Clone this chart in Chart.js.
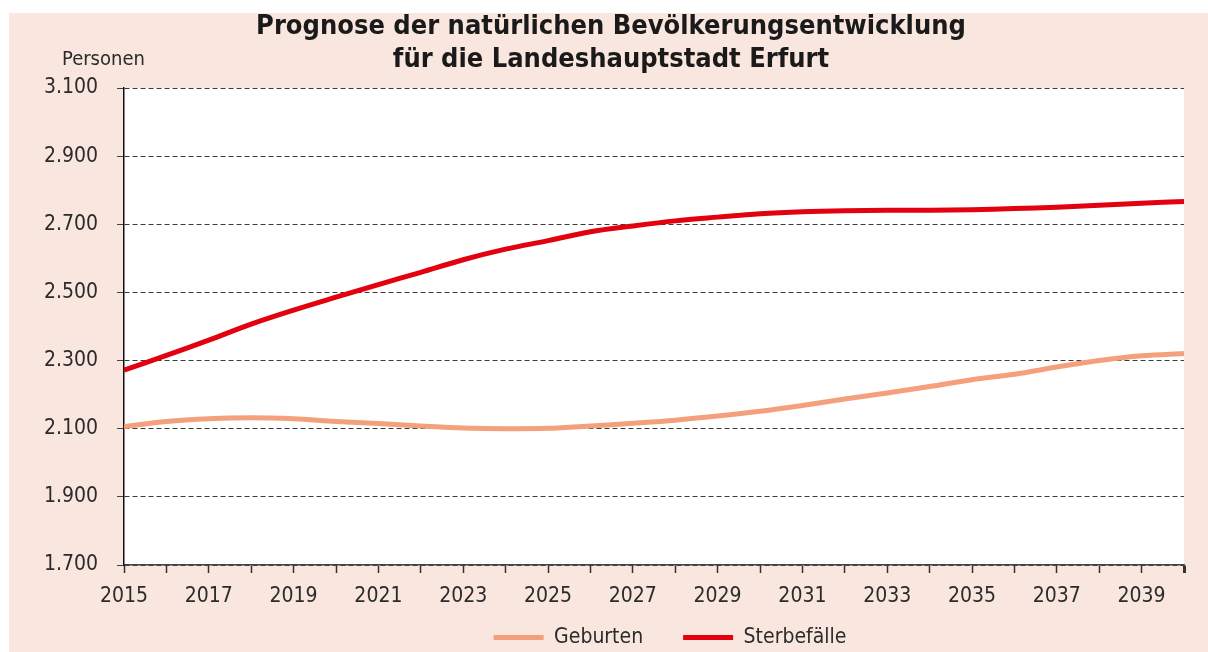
<!DOCTYPE html>
<html lang="de">
<head>
<meta charset="utf-8">
<title>Natürliche Bevölkerungsentwicklung Erfurt</title>
<script src="https://cdn.jsdelivr.net/npm/chart.js@4/dist/chart.umd.min.js"></script>
<style>
    html, body { margin: 0; padding: 0; background: #fff; }
    #wrap { position: relative; width: 1208px; height: 652px; }
</style>
</head>
<body>
<div id="wrap"><canvas id="prognoseChart" width="1208" height="652"></canvas></div>
<script>
// Prognosejahre
const years = [2015, 2016, 2017, 2018, 2019, 2020, 2021, 2022, 2023, 2024, 2025, 2026, 2027,
               2028, 2029, 2030, 2031, 2032, 2033, 2034, 2035, 2036, 2037, 2038, 2039, 2040];

// Geburten je Jahr
const geburten = [2106, 2121, 2129, 2132, 2129, 2121, 2115, 2108, 2102, 2100, 2101, 2108, 2116,
                  2125, 2137, 2151, 2168, 2187, 2205, 2224, 2244, 2260, 2281, 2300, 2314, 2321];

// Sterbefälle je Jahr
const sterbefaelle = [2272, 2315, 2360, 2407, 2448, 2486, 2523, 2559, 2596, 2627, 2652, 2678, 2695,
                      2710, 2721, 2731, 2737, 2740, 2741, 2741, 2743, 2746, 2750, 2756, 2762, 2767];

const yTicks = { min: 1700, max: 3100, step: 200 };

const titleLines = ['Prognose der natürlichen Bevölkerungsentwicklung', 'für die Landeshauptstadt Erfurt'];
const unitLabel = 'Personen';

const FONT = "'Liberation Sans Narrow', 'DejaVu Sans Condensed', 'Roboto', sans-serif";
const TEXT_COLOR = '#2b2b2b';

function formatThousands(v) {
    const t = Math.floor(v / 1000);
    const r = String(v % 1000).padStart(3, '0');
    return t > 0 ? t + '.' + r : String(v);
}

function toPoints(values) {
    return values.map((v, i) => ({ x: years[i], y: v }));
}

// Rosa Hintergrund, weisse Plotflaeche, Titel und Einheit
const backdrop = {
    id: 'backdrop',
    afterLayout(chart) {
        // Legende unter die Plotmitte ruecken und naeher an die Achse holen
        const lg = chart.legend;
        if (lg) {
            lg.left += 78;
            lg.right += 78;
            lg.top -= 30;
            lg.bottom -= 30;
        }
    },
    beforeDraw(chart) {
        const { ctx, chartArea } = chart;
        ctx.save();
        ctx.fillStyle = '#fff';
        ctx.fillRect(0, 0, chart.width, chart.height);
        ctx.fillStyle = '#f9e7df';
        ctx.fillRect(9, 13, chart.width - 9, chart.height - 13);
        ctx.fillStyle = '#fff';
        ctx.fillRect(chartArea.left, chartArea.top, chartArea.right - chartArea.left, chartArea.bottom - chartArea.top);
        ctx.restore();
    },
    afterDraw(chart) {
        const { ctx } = chart;
        ctx.save();
        ctx.fillStyle = '#1a1a1a';
        ctx.textAlign = 'center';
        ctx.textBaseline = 'alphabetic';
        ctx.font = "bold 27px " + FONT;
        ctx.fillText(titleLines[0], 611, 34);
        ctx.fillText(titleLines[1], 611, 67);
        ctx.fillStyle = TEXT_COLOR;
        ctx.textAlign = 'left';
        ctx.font = "20px " + FONT;
        ctx.fillText(unitLabel, 62, 65);
        ctx.restore();
    }
};

const ctx = document.getElementById('prognoseChart').getContext('2d');
new Chart(ctx, {
    type: 'line',
    data: {
        datasets: [
            {
                label: 'Geburten',
                data: toPoints(geburten),
                borderColor: '#f4a07c',
                backgroundColor: '#f4a07c',
                borderWidth: 5,
                pointRadius: 0,
                tension: 0.35
            },
            {
                label: 'Sterbefälle',
                data: toPoints(sterbefaelle),
                borderColor: '#e3000f',
                backgroundColor: '#e3000f',
                borderWidth: 5,
                pointRadius: 0,
                tension: 0.35
            }
        ]
    },
    options: {
        responsive: false,
        animation: false,
        layout: {
            padding: { left: 0, top: 88, right: 24, bottom: -36 }
        },
        scales: {
            x: {
                type: 'linear',
                min: years[0],
                max: years[years.length - 1],
                afterFit(scale) { scale.height = 52; },
                grid: {
                    drawOnChartArea: false,
                    drawTicks: true,
                    tickLength: 8,
                    tickColor: '#333',
                    tickWidth: (c) => (c.tick && c.tick.value === 2040 ? 3 : 1.5)
                },
                border: { color: '#444', width: 1.5 },
                ticks: {
                    stepSize: 1,
                    autoSkip: false,
                    maxRotation: 0,
                    padding: 11,
                    color: TEXT_COLOR,
                    font: { family: FONT, size: 21 },
                    callback: (v) => (v % 2 === 1 ? String(v) : '')
                }
            },
            y: {
                min: yTicks.min,
                max: yTicks.max,
                afterFit(scale) { scale.width = 124; },
                grid: {
                    color: '#3a3a3a',
                    lineWidth: 1,
                    tickLength: 7,
                    tickColor: '#444'
                },
                border: { color: '#111', width: 1.5, dash: [5, 3] },
                ticks: {
                    stepSize: yTicks.step,
                    padding: 19,
                    color: TEXT_COLOR,
                    font: { family: FONT, size: 21 },
                    callback: (v) => formatThousands(v)
                }
            }
        },
        plugins: {
            title: { display: false },
            tooltip: { enabled: false },
            legend: {
                position: 'bottom',
                labels: {
                    usePointStyle: true,
                    pointStyle: 'line',
                    pointStyleWidth: 50,
                    padding: 40,
                    color: TEXT_COLOR,
                    font: { family: FONT, size: 21 }
                }
            }
        }
    },
    plugins: [backdrop]
});
</script>
</body>
</html>
